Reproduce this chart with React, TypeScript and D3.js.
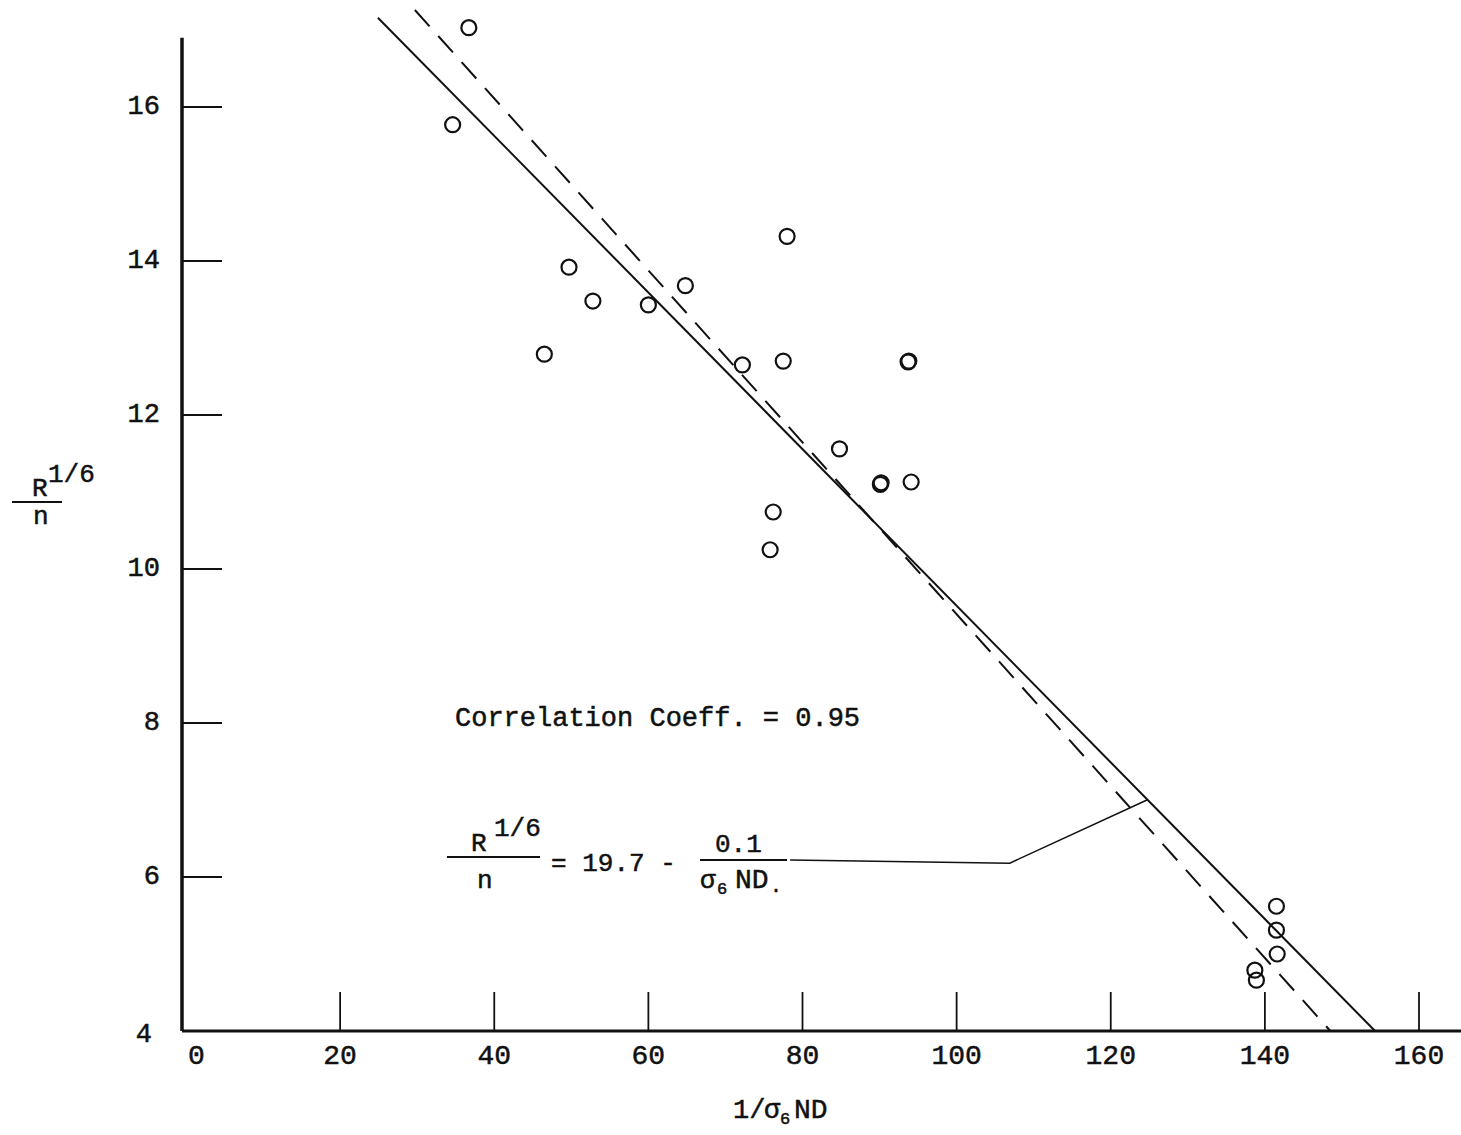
import React from 'react';
import * as d3 from 'd3';

// data
const pointX = [34.6, 36.7, 46.5, 49.7, 52.8, 60.0, 64.8, 72.2, 77.5, 78.0, 76.2, 75.8, 84.8, 90.1, 90.2, 93.7, 93.8, 94.1, 141.5, 141.5, 141.6, 138.7, 138.9];
const pointY = [15.77, 17.03, 12.79, 13.92, 13.48, 13.43, 13.68, 12.65, 12.7, 14.32, 10.74, 10.25, 11.56, 11.1, 11.12, 12.69, 12.7, 11.13, 5.62, 5.31, 5.0, 4.79, 4.66];

const xTicks = [0, 20, 40, 60, 80, 100, 120, 140, 160];
const yTicks = [4, 6, 8, 10, 12, 14, 16];

// fitted line (solid) and second line (dashed), endpoints
const solidLine: [number, number][] = [[24.9, 17.16], [154.3, 4.0]];
const dashedLine: [number, number][] = [[29.7, 17.26], [148.5, 4.0]];
// leader from equation to the line
const leader: [number, number][] = [[78.4, 6.22], [106.9, 6.18], [124.7, 7.0]];

const W = 1461;
const H = 1135;
const FONT = "'Liberation Mono', 'Courier New', monospace";
const INK = '#111';

const App = () => {
  const x = d3.scaleLinear().domain([0, 160]).range([186, 1419]);
  const y = d3.scaleLinear().domain([4, 16]).range([1031, 107]);

  const axisX = x(0) - 4;
  const line = d3.line<[number, number]>().x(d => x(d[0])).y(d => y(d[1]));

  return (
    <div style={{ position: 'absolute', left: 0, top: 0 }}>
      <svg width={W} height={H} style={{ display: 'block', background: '#fff' }}>
        {/* axes */}
        <line x1={axisX} x2={axisX} y1={y(16.9)} y2={y(4)} stroke={INK} strokeWidth={3.5} />
        <line x1={axisX} x2={W} y1={y(4)} y2={y(4)} stroke={INK} strokeWidth={3} />

        {xTicks.filter(t => t > 0).map(t => (
          <line key={'xt' + t} x1={x(t)} x2={x(t)} y1={y(4) - 39} y2={y(4)} stroke={INK} strokeWidth={1.8} />
        ))}
        {yTicks.filter(t => t > 4).map(t => (
          <line key={'yt' + t} x1={axisX} x2={axisX + 40} y1={y(t)} y2={y(t)} stroke={INK} strokeWidth={1.8} />
        ))}

        {/* lines */}
        <path d={line(solidLine) || ''} fill="none" stroke={INK} strokeWidth={2} />
        <path d={line(dashedLine) || ''} fill="none" stroke={INK} strokeWidth={2} strokeDasharray="22 13" />
        <path d={line(leader) || ''} fill="none" stroke={INK} strokeWidth={1.5} />

        {/* points */}
        {pointX.map((px, i) => (
          <circle key={'p' + i} cx={x(px)} cy={y(pointY[i])} r={7.5} fill="none" stroke={INK} strokeWidth={2.2} />
        ))}

        <g fontFamily={FONT} fill={INK} stroke={INK} strokeWidth={0.5}>
          {xTicks.map(t => (
            <text key={'xl' + t} x={t === 0 ? x(t) + 2 : x(t)} y={1064} fontSize={28}
              textAnchor={t === 0 ? 'start' : 'middle'}>{t}</text>
          ))}
          {yTicks.map(t => (
            <text key={'yl' + t} x={t === 4 ? 152 : 160} y={y(t) + (t === 4 ? 4 : 0)} fontSize={27}
              textAnchor="end" dominantBaseline="middle">{t}</text>
          ))}

          {/* y label */}
          <text x={32} y={496} fontSize={26}>R</text>
          <text x={48} y={482} fontSize={26}>1/6</text>
          <text x={33} y={524} fontSize={26}>n</text>

          {/* x label */}
          <text x={733} y={1118} fontSize={27}>1/</text>
          <text x={764} y={1118} fontSize={27}>σ</text>
          <text x={780} y={1124} fontSize={17}>6</text>
          <text x={794} y={1118} fontSize={28}>ND</text>

          {/* correlation */}
          <text x={455} y={726} fontSize={27}>Correlation Coeff. = 0.95</text>

          {/* equation */}
          <text x={471} y={851} fontSize={26}>R</text>
          <text x={494} y={836} fontSize={26}>1/6</text>
          <text x={477} y={888} fontSize={26}>n</text>
          <text x={551} y={871} fontSize={26}>= 19.7 -</text>
          <text x={715} y={852} fontSize={26}>0.1</text>
          <text x={700} y={888} fontSize={26}>σ</text>
          <text x={717} y={894} fontSize={17}>6</text>
          <text x={735} y={888} fontSize={28}>ND</text>
          <text x={770} y={892} fontSize={20}>.</text>
        </g>
        <line x1={12} x2={62} y1={502} y2={502} stroke={INK} strokeWidth={2} />
        <line x1={447} x2={540} y1={857} y2={857} stroke={INK} strokeWidth={2} />
        <line x1={700} x2={787} y1={860} y2={860} stroke={INK} strokeWidth={2} />
      </svg>
    </div>
  );
};

export default App;
